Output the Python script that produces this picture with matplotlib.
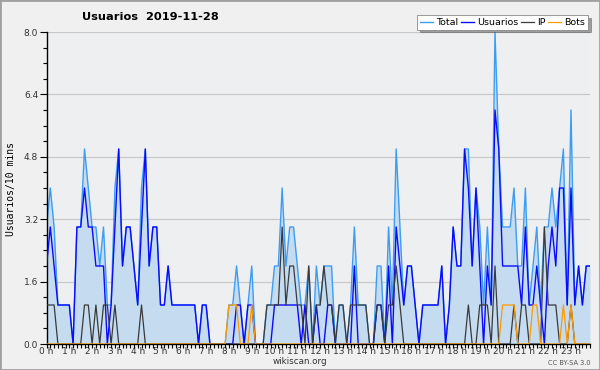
import matplotlib
matplotlib.use("Agg")
import matplotlib.pyplot as plt
from matplotlib.ticker import MultipleLocator, FixedLocator
from matplotlib.patches import Rectangle

title = "Usuarios  2019-11-28"
ylabel = "Usuarios/10 mins"
hour_labels = [f"{h} h" for h in range(24)]
y_ticks = [0.0, 1.6, 3.2, 4.8, 6.4, 8.0]

# 144 ten-minute slots
usuarios = [2, 3, 2, 1, 1, 1, 1, 0, 3, 3, 4, 3, 3, 2, 2, 2, 0, 1, 3, 5, 2, 3, 3, 2,
            1, 3, 5, 2, 3, 3, 1, 1, 2, 1, 1, 1, 1, 1, 1, 1, 0, 1, 1, 0, 0, 0, 0, 0,
            0, 0, 1, 1, 0, 1, 1, 0, 0, 0, 0, 0, 1, 1, 1, 1, 1, 1, 1, 0, 1, 0, 0, 1,
            0, 0, 1, 1, 0, 0, 0, 0, 0, 2, 0, 0, 0, 0, 0, 1, 1, 0, 2, 0, 3, 2, 1, 2,
            2, 1, 0, 1, 1, 1, 1, 1, 2, 0, 1, 3, 2, 2, 5, 4, 2, 4, 2, 0, 2, 1, 6, 5,
            2, 2, 2, 2, 2, 1, 3, 1, 1, 2, 1, 0, 2, 3, 2, 4, 4, 1, 4, 1, 2, 1, 2, 2]
ip = [1, 1, 1, 0, 0, 0, 0, 0, 0, 0, 1, 1, 0, 1, 0, 1, 1, 0, 1, 0, 0, 0, 0, 0,
      0, 1, 0, 0, 0, 0, 0, 0, 0, 0, 0, 0, 0, 0, 0, 0, 0, 0, 0, 0, 0, 0, 0, 0,
      0, 0, 0, 0, 0, 0, 0, 0, 0, 0, 1, 1, 1, 1, 3, 1, 2, 2, 1, 1, 0, 2, 0, 1,
      1, 2, 1, 1, 0, 1, 1, 0, 1, 1, 1, 1, 1, 0, 0, 1, 1, 0, 1, 1, 2, 1, 0, 0,
      0, 0, 0, 0, 0, 0, 0, 0, 0, 0, 0, 0, 0, 0, 0, 1, 0, 0, 1, 1, 1, 0, 2, 0,
      0, 0, 0, 1, 0, 1, 1, 0, 0, 0, 0, 3, 1, 1, 1, 0, 0, 0, 1, 0, 0, 0, 0, 0]
bots = [0, 0, 0, 0, 0, 0, 0, 0, 0, 0, 0, 0, 0, 0, 0, 0, 0, 0, 0, 0, 0, 0, 0, 0,
        0, 0, 0, 0, 0, 0, 0, 0, 0, 0, 0, 0, 0, 0, 0, 0, 0, 0, 0, 0, 0, 0, 0, 0,
        1, 1, 1, 0, 0, 0, 1, 0, 0, 0, 0, 0, 0, 0, 0, 0, 0, 0, 0, 0, 0, 0, 0, 0,
        0, 0, 0, 0, 0, 0, 0, 0, 0, 0, 0, 0, 0, 0, 0, 0, 0, 0, 0, 0, 0, 0, 0, 0,
        0, 0, 0, 0, 0, 0, 0, 0, 0, 0, 0, 0, 0, 0, 0, 0, 0, 0, 0, 0, 0, 0, 0, 0,
        1, 1, 1, 1, 0, 0, 0, 0, 1, 1, 0, 0, 0, 0, 0, 0, 1, 0, 1, 0, 0, 0, 0, 0]
total = [3, 4, 3, 1, 1, 1, 1, 0, 3, 3, 5, 4, 3, 3, 2, 3, 1, 1, 4, 5, 2, 3, 3, 2,
         1, 4, 5, 2, 3, 3, 1, 1, 2, 1, 1, 1, 1, 1, 1, 1, 0, 1, 1, 0, 0, 0, 0, 0,
         1, 1, 2, 1, 0, 1, 2, 0, 0, 0, 1, 1, 2, 2, 4, 2, 3, 3, 2, 1, 1, 2, 0, 2,
         1, 2, 2, 2, 0, 1, 1, 0, 1, 3, 1, 1, 1, 0, 0, 2, 2, 0, 3, 1, 5, 3, 1, 2,
         2, 1, 0, 1, 1, 1, 1, 1, 2, 0, 1, 3, 2, 2, 5, 5, 2, 4, 3, 1, 3, 1, 8, 5,
         3, 3, 3, 4, 2, 2, 4, 1, 2, 3, 1, 3, 3, 4, 3, 4, 5, 1, 6, 1, 2, 1, 2, 2]

BG = "#eeeff1"
fig = plt.figure(figsize=(6.0, 3.7), dpi=100, facecolor="#f0f0f0")
fig.patches.append(Rectangle((0, 0), 1, 1, transform=fig.transFigure, fill=False,
                             edgecolor="#a0a0a0", linewidth=2))
ax = fig.add_axes([46.5 / 600, 26 / 370, 543.5 / 600, 312 / 370])
ax.set_facecolor(BG)

x = list(range(len(total)))
ax.fill_between(x, total, 0, color="#c5dcf0", linewidth=0, zorder=1)
ax.plot(x, total, color="#3d9df2", lw=1.0, zorder=2, label="Total")
ax.plot(x, usuarios, color="#0a0aff", lw=1.0, zorder=3, label="Usuarios")
ax.plot(x, ip, color="#3a3a3a", lw=0.9, zorder=4, label="IP")
ax.plot(x, bots, color="#ff9900", lw=0.9, zorder=5, label="Bots")

ax.set_xlim(0, 143)
ax.set_ylim(0, 8.0)
ax.yaxis.set_major_locator(FixedLocator(y_ticks))
ax.yaxis.set_minor_locator(MultipleLocator(0.4))
ax.set_yticklabels([f"{v:.1f}" for v in y_ticks])
ax.grid(axis="y", which="major", color="#c8c8c8", lw=0.9)
ax.set_axisbelow(True)
ax.xaxis.set_major_locator(FixedLocator([h * 6 for h in range(24)]))
ax.xaxis.set_minor_locator(MultipleLocator(1))
ax.set_xticklabels(hour_labels)

for s in ["top", "right"]:
    ax.spines[s].set_visible(False)
ax.spines["left"].set_linewidth(1.0)
ax.spines["bottom"].set_linewidth(1.0)
ax.tick_params(axis="y", which="major", length=5, width=0.8, labelsize=6.5,
               labelcolor="#333333", pad=1)
ax.tick_params(axis="y", which="minor", length=3, width=0.8)
ax.tick_params(axis="x", which="both", length=3, width=0.8, labelsize=6.5,
               labelcolor="#333333", pad=-0.5)

fig.text(0.25, 0.955, title, fontsize=8.2, fontweight="bold", ha="center", va="center")
fig.text(0.018, 0.49, ylabel, rotation=90, fontsize=7, family="DejaVu Sans Mono",
         ha="center", va="center")
fig.text(0.5, 1 - 362 / 370, "wikiscan.org", fontsize=6.3, color="#333333",
         ha="center", va="center")
fig.text(0.985, 1 - 363 / 370, "CC BY-SA 3.0", fontsize=4.8, color="#555555",
         ha="right", va="center")

leg = fig.legend(loc="upper right", bbox_to_anchor=(588 / 600, 1 - 15 / 370),
                 ncol=4, fontsize=6.8, frameon=True, fancybox=False, shadow=True,
                 handlelength=1.4, handletextpad=0.3, columnspacing=0.3,
                 borderpad=0.3, borderaxespad=0)
leg.get_frame().set_facecolor("white")
leg.get_frame().set_edgecolor("#888888")
leg.get_frame().set_linewidth(0.6)

fig.savefig("out.png", dpi=100, facecolor=fig.get_facecolor())
